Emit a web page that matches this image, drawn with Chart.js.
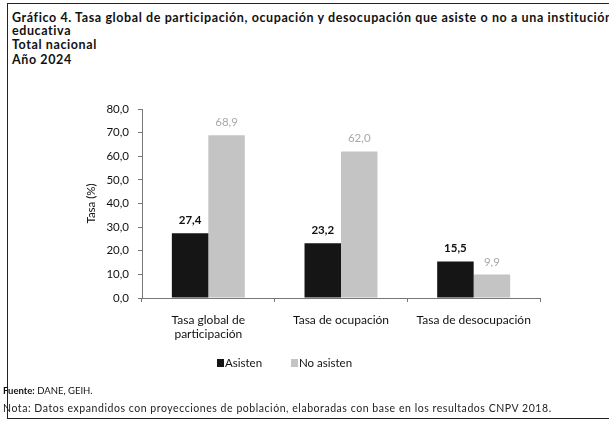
<!DOCTYPE html>
<html>
<head>
<meta charset="utf-8">
<script src="https://cdn.jsdelivr.net/npm/chart.js@4"></script>
<style>
  html, body { margin:0; padding:0; background:#fff; }
  body { width:609px; height:423px; overflow:hidden; position:relative; font-family: Lato, "Open Sans", sans-serif; color:#111; }
  #frame { position:absolute; left:7px; top:3px; width:640px; height:416px; border:1.5px solid #222; box-sizing:border-box; }
  .t { position:absolute; left:12px; font-weight:bold; font-size:12.5px; letter-spacing:0.6px; white-space:nowrap; line-height:14px; }
  #foot1 { position:absolute; left:3px; top:385px; font-size:9.5px; white-space:nowrap; }
  #foot2 { position:absolute; left:3px; top:402px; font-size:10.5px; letter-spacing:0.55px; white-space:nowrap; color:#222; }
  #wrap { position:absolute; left:0; top:0; width:609px; height:423px; }
</style>
</head>
<body>
<div id="frame"></div>
<div class="t" style="top:11px">Gráfico 4. Tasa global de participación, ocupación y desocupación que asiste o no a una institución</div>
<div class="t" style="top:24px">educativa</div>
<div class="t" style="top:38px">Total nacional</div>
<div class="t" style="top:53px">Año 2024</div>
<div id="wrap"><canvas id="c"></canvas></div>
<div id="foot1"><b>Fuente:</b> DANE, GEIH.</div>
<div id="foot2">Nota: Datos expandidos con proyecciones de población, elaboradas con base en los resultados CNPV 2018.</div>
<script>
const categories = [["Tasa global de", "participación"], "Tasa de ocupación", "Tasa de desocupación"];
const seriesNames = ["Asisten", "No asisten"];
const asisten = [27.4, 23.2, 15.5];
const noAsisten = [68.9, 62.0, 9.9];
const yTicks = [0, 10, 20, 30, 40, 50, 60, 70, 80];

const fmt = v => v.toFixed(1).replace('.', ',');
const FONT = 'Lato, "Open Sans", sans-serif';

const labelPlugin = {
  id: 'valueLabels',
  afterDatasetsDraw(chart) {
    const ctx = chart.ctx;
    chart.data.datasets.forEach((ds, di) => {
      const meta = chart.getDatasetMeta(di);
      meta.data.forEach((bar, i) => {
        ctx.save();
        ctx.font = (di === 0 ? 'bold ' : '') + '11.5px ' + FONT;
        ctx.fillStyle = di === 0 ? '#111' : '#a8a8a8';
        ctx.textAlign = 'center';
        ctx.textBaseline = 'bottom';
        ctx.fillText(fmt(ds.data[i]), bar.x, bar.y - 7);
        ctx.restore();
      });
    });
  }
};

// simple legend drawn on the canvas, from the dataset labels and colours
const legendPlugin = {
  id: 'customLegend',
  afterDraw(chart) {
    const ctx = chart.ctx;
    const xs = [217, 291];
    const y = 363;
    chart.data.datasets.forEach((ds, di) => {
      ctx.save();
      ctx.fillStyle = ds.backgroundColor;
      ctx.fillRect(xs[di], y - 4, 7, 8);
      ctx.font = '11.5px ' + FONT;
      ctx.fillStyle = '#111';
      ctx.textAlign = 'left';
      ctx.textBaseline = 'middle';
      ctx.fillText(ds.label, xs[di] + 8, y);
      ctx.restore();
    });
  }
};

new Chart(document.getElementById('c'), {
  type: 'bar',
  data: {
    labels: categories,
    datasets: [
      { label: seriesNames[0], data: asisten, backgroundColor: '#151515', categoryPercentage: 0.55, barPercentage: 1.0 },
      { label: seriesNames[1], data: noAsisten, backgroundColor: '#c4c4c4', categoryPercentage: 0.55, barPercentage: 1.0 }
    ]
  },
  options: {
    responsive: true,
    maintainAspectRatio: false,
    animation: false,
    devicePixelRatio: 1,
    layout: { padding: { left: 80, right: 69, top: 109, bottom: 80 } },
    plugins: {
      legend: { display: false },
      tooltip: { enabled: false }
    },
    scales: {
      x: {
        grid: { display: true, drawOnChartArea: false, tickLength: 4, color: '#777', offset: true },
        border: { color: '#777', width: 1 },
        ticks: { font: { family: FONT, size: 12 }, color: '#111', padding: 11 },
        afterFit(s) { s.height = 45; }
      },
      y: {
        min: 0, max: 80,
        afterBuildTicks(s) { s.ticks = yTicks.map(v => ({ value: v })); },
        grid: { display: true, drawOnChartArea: false, tickLength: 4, color: '#777' },
        border: { color: '#777', width: 1 },
        ticks: { font: { family: FONT, size: 11.5 }, color: '#111', padding: 9, callback: v => fmt(v) },
        title: { display: true, text: 'Tasa (%)', font: { family: FONT, size: 11.5 }, color: '#111', padding: 4 },
        afterFit(s) { s.width = 62; }
      }
    }
  },
  plugins: [labelPlugin, legendPlugin]
});
</script>
</body>
</html>
